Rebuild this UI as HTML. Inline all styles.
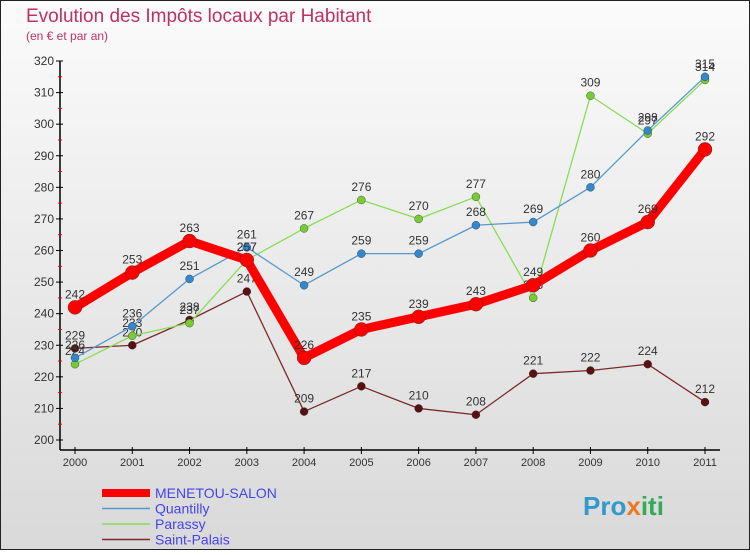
<!DOCTYPE html>
<html><head><meta charset="utf-8"><style>
body{margin:0;width:750px;height:550px;overflow:hidden;font-family:"Liberation Sans",sans-serif}
</style></head><body>
<svg id="c" width="750" height="550" xmlns="http://www.w3.org/2000/svg">
<defs><linearGradient id="bg" x1="0" y1="0" x2="0" y2="1"><stop offset="0" stop-color="#fbfbfb"/><stop offset="1" stop-color="#d9d9d9"/></linearGradient></defs>
<rect x="0.5" y="0.5" width="749" height="549" fill="url(#bg)" stroke="#222"/>
<text x="26" y="22" font-size="19" fill="#c03060">Evolution des Impôts locaux par Habitant</text>
<text x="26" y="40" font-size="12" fill="#c03060">(en € et par an)</text>
<g id="axes"></g><g id="series"></g><g id="legend"></g>
<text x="583" y="515" font-size="26" font-weight="bold" fill="#3399cc">Pro<tspan fill="#ee7722">x</tspan><tspan fill="#33aa55">iti</tspan></text>
</svg>
<script>
const years=[2000,2001,2002,2003,2004,2005,2006,2007,2008,2009,2010,2011];
const yTicks=[200,210,220,230,240,250,260,270,280,290,300,310,320];
const menetou=[242,253,263,257,226,235,239,243,249,260,269,292];
const quantilly=[226,236,251,261,249,259,259,268,269,280,298,315];
const parassy=[224,233,237,257,267,276,270,277,245,309,297,314];
const saintPalais=[229,230,238,247,209,217,210,208,221,222,224,212];
const NS="http://www.w3.org/2000/svg";
const X=i=>75+i*(630/11);
const Y=v=>440-(v-200)*(379/120);
function mk(t,a,p){const e=document.createElementNS(NS,t);for(const k in a)e.setAttribute(k,a[k]);p.appendChild(e);return e;}
const ax=document.getElementById('axes');
let l=mk('line',{x1:60,y1:Y(320),x2:60,y2:450,stroke:'#000','stroke-width':1.5},ax);


l=mk('line',{x1:60,y1:450,x2:720,y2:450,stroke:'#000','stroke-width':1.5},ax);


yTicks.forEach(v=>{mk('line',{x1:56,y1:Y(v),x2:63,y2:Y(v),stroke:'#000'},ax);
 if(v<320)mk('line',{x1:58,y1:Y(v+5),x2:62,y2:Y(v+5),stroke:'#e00'},ax);
 const t=mk('text',{x:54,y:Y(v)+4,'font-size':12,fill:'#333','text-anchor':'end'},ax);t.textContent=v;
 
 });
years.forEach((yr,i)=>{mk('line',{x1:X(i),y1:447,x2:X(i),y2:454,stroke:'#000'},ax);
 const t=mk('text',{x:X(i),y:466,'font-size':11,fill:'#333','text-anchor':'middle'},ax);t.textContent=yr;
 
 });
const S=[
 {n:'Saint-Palais',d:saintPalais,c:'#7a2a2a',f:'#5a1010',w:1.3,r:4},
 {n:'Parassy',d:parassy,c:'#88dd55',f:'#77cc33',w:1.3,r:4},
 {n:'Quantilly',d:quantilly,c:'#5599cc',f:'#3388cc',w:1.3,r:4},
 {n:'MENETOU-SALON',d:menetou,c:'#ff0000',f:'#ff0000',w:9,r:7}];
const sg=document.getElementById('series');
S.forEach(s=>{const g=mk('g',{},sg);
 
 
 mk('polyline',{points:s.d.map((v,i)=>X(i)+','+Y(v)).join(' '),fill:'none',stroke:s.c,'stroke-width':s.w,'stroke-linejoin':'round'},g);
 s.d.forEach((v,i)=>{const c=mk('circle',{cx:X(i),cy:Y(v),r:s.r,fill:s.f,stroke:'#333','stroke-width':0.4},g);
  
  
  const t=mk('text',{x:X(i),y:Y(v)-9,'font-size':12,fill:'#333','text-anchor':'middle'},g);t.textContent=v;
  
  });});
const lg=document.getElementById('legend');
[['MENETOU-SALON','#ff0000',8],['Quantilly','#5599cc',1.5],['Parassy','#88dd55',1.5],['Saint-Palais','#7a2a2a',1.5]].forEach((e,i)=>{
 const y=493+i*15.5;const g=mk('g',{},lg);
 
 
 mk('line',{x1:102,y1:y,x2:150,y2:y,stroke:e[1],'stroke-width':e[2]},g);
 const t=mk('text',{x:155,y:y+5,'font-size':14,fill:'#4444ee'},g);t.textContent=e[0];});
</script>
</body></html>
